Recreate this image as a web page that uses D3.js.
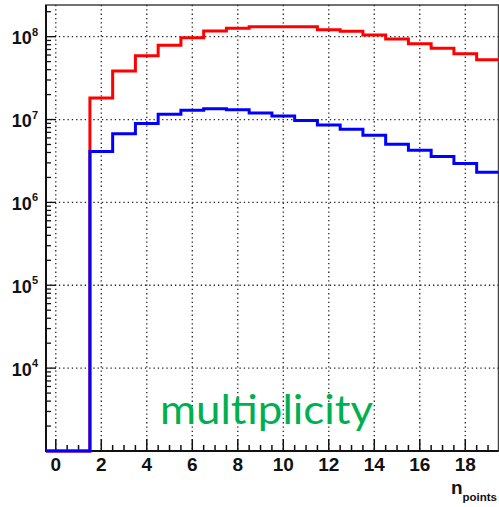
<!DOCTYPE html>
<html>
<head>
<meta charset="utf-8">
<script src="https://cdn.jsdelivr.net/npm/d3@7"></script>
<style>
  html, body { margin: 0; padding: 0; background: #fff; }
  svg { display: block; }
</style>
</head>
<body>
<svg id="chart" width="499" height="507"></svg>
<script>
// Number of points per track (bin centres, unit-width bins)
const nPoints = [0, 1, 2, 3, 4, 5, 6, 7, 8, 9, 10, 11, 12, 13, 14, 15, 16, 17, 18, 19];
// Counts per bin for the two samples
const redCounts = [0, 0, 1.82e7, 3.86e7, 5.9e7, 7.9e7, 9.7e7, 1.17e8, 1.26e8, 1.32e8,
                   1.32e8, 1.32e8, 1.21e8, 1.16e8, 1.05e8, 9.4e7, 8.2e7, 7.24e7, 6.2e7, 5.28e7];
const blueCounts = [0, 0, 4.1e6, 6.75e6, 8.95e6, 1.16e7, 1.29e7, 1.35e7, 1.31e7, 1.2e7,
                    1.1e7, 9.7e6, 8.6e6, 7.64e6, 6.46e6, 5.04e6, 4.27e6, 3.57e6, 2.94e6, 2.31e6];
// Axis tick labels
const xTickValues = [0, 2, 4, 6, 8, 10, 12, 14, 16, 18];
const yTickExponents = [4, 5, 6, 7, 8];
const annotation = "multiplicity";

const svg = d3.select("#chart");
const L = 46, R = 498.5, T = 5, B = 451;

const x = d3.scaleLinear().domain([-0.43, 19.46]).range([L, R]);
const yMin = 1e3, yMax = 2.41e8;
const y = d3.scaleLog().domain([yMin, yMax]).range([B, T]).clamp(true);

// clip region for the histograms
svg.append("defs").append("clipPath").attr("id", "plot")
  .append("rect").attr("x", L).attr("y", T).attr("width", R - L).attr("height", B - T + 2);

// frame
svg.append("rect").attr("x", L).attr("y", T).attr("width", R - L).attr("height", B - T)
  .attr("fill", "none").attr("stroke", "#444").attr("stroke-width", 1.5);

// dotted grid
const grid = svg.append("g").attr("stroke", "#222").attr("stroke-width", 1.3)
  .attr("stroke-dasharray", "1.3,3");
grid.selectAll("line.gx").data(xTickValues).join("line")
  .attr("x1", d => x(d)).attr("x2", d => x(d)).attr("y1", T).attr("y2", B);
grid.selectAll("line.gy").data(yTickExponents).join("line")
  .attr("x1", L).attr("x2", R).attr("y1", d => y(Math.pow(10, d))).attr("y2", d => y(Math.pow(10, d)));

// x axis ticks: major every 2, minor every 0.5
const xMinor = d3.range(0, 19.5 + 1e-9, 0.5).filter(v => x(v) <= R);
const xAxis = svg.append("g");
xAxis.selectAll("line").data(xMinor).join("line")
  .attr("x1", d => x(d)).attr("x2", d => x(d))
  .attr("y1", B).attr("y2", d => B - (Math.abs(d % 2) < 1e-9 ? 12 : 6))
  .attr("stroke", "#111").attr("stroke-width", 1.5);

// y axis ticks: major at decades, minor at 2..9
const yTicksAll = [];
for (let e = 3; e <= 8; e++) {
  for (let m = 1; m <= 9; m++) {
    const v = m * Math.pow(10, e);
    if (v >= yMin && v <= yMax) yTicksAll.push({ v, major: m === 1 });
  }
}
svg.append("g").selectAll("line").data(yTicksAll).join("line")
  .attr("x1", L).attr("x2", d => L + (d.major ? 10 : 5))
  .attr("y1", d => y(d.v)).attr("y2", d => y(d.v))
  .attr("stroke", "#111").attr("stroke-width", 1.3);

// axis lines
svg.append("line").attr("x1", L).attr("x2", L).attr("y1", T).attr("y2", B + 1)
  .attr("stroke", "#111").attr("stroke-width", 2);
svg.append("line").attr("x1", L - 1).attr("x2", R).attr("y1", B).attr("y2", B)
  .attr("stroke", "#111").attr("stroke-width", 2);

// x tick labels
svg.append("g").selectAll("text").data(xTickValues).join("text")
  .attr("x", d => x(d)).attr("y", 471)
  .attr("text-anchor", "middle")
  .attr("font-family", "Liberation Sans, Arial, sans-serif")
  .attr("font-weight", "bold").attr("font-size", 19).attr("fill", "#111")
  .text(d => d);

// y tick labels 10^n
const yl = svg.append("g").selectAll("text").data(yTickExponents).join("text")
  .attr("x", 38).attr("y", d => y(Math.pow(10, d)) + 7.5)
  .attr("text-anchor", "end")
  .attr("font-family", "Liberation Sans, Arial, sans-serif")
  .attr("font-weight", "bold").attr("fill", "#111");
yl.append("tspan").attr("font-size", 18).text("10");
yl.append("tspan").attr("font-size", 11).attr("dy", -8.5).text(d => d);

// x axis title
const xt = svg.append("text").attr("x", 497).attr("y", 494)
  .attr("text-anchor", "end")
  .attr("font-family", "Liberation Sans, Arial, sans-serif")
  .attr("font-weight", "bold").attr("fill", "#111");
xt.append("tspan").attr("font-size", 19).text("n");
xt.append("tspan").attr("font-size", 11.5).attr("dy", 7).text("points");

// histograms drawn as steps across bin edges
function stepPoints(counts) {
  const pts = [];
  nPoints.forEach((c, i) => {
    const v = Math.max(counts[i], yMin);
    pts.push([c - 0.5, v], [c + 0.5, v]);
  });
  return pts;
}
const line = d3.line().x(d => x(d[0])).y(d => y(d[1]));
const hist = svg.append("g").attr("clip-path", "url(#plot)");
hist.append("path").attr("d", line(stepPoints(redCounts)))
  .attr("fill", "none").attr("stroke", "#ff0000").attr("stroke-width", 3);
hist.append("path").attr("d", line(stepPoints(blueCounts)))
  .attr("fill", "none").attr("stroke", "#0000ff").attr("stroke-width", 3);

// annotation
svg.append("text").attr("x", 160).attr("y", 424)
  .attr("font-family", "Lato, 'Open Sans', sans-serif")
  .attr("font-size", 40).attr("fill", "#00b050")
  .attr("textLength", 213).attr("lengthAdjust", "spacingAndGlyphs")
  .text(annotation);
</script>
</body>
</html>
